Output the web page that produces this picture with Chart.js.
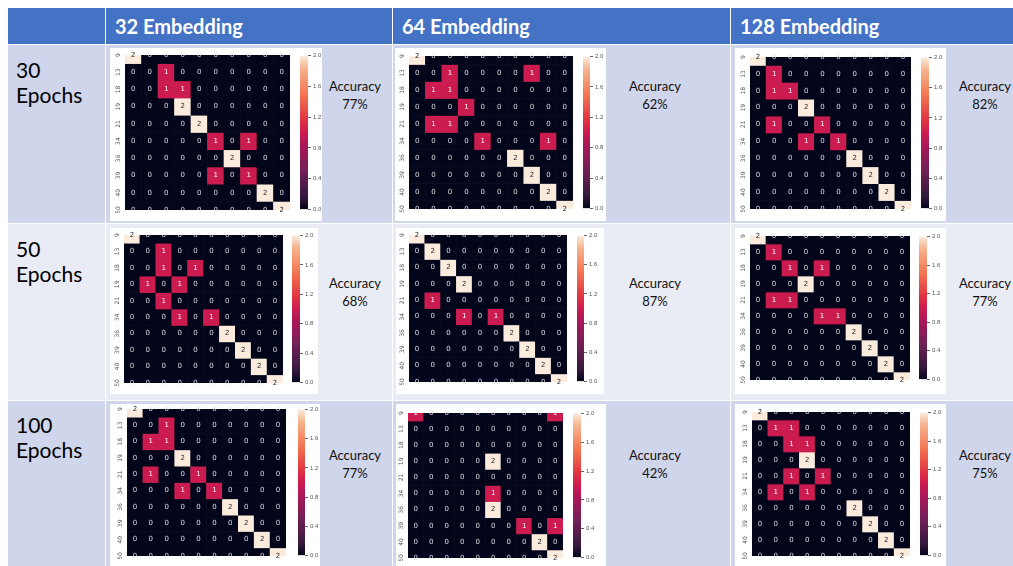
<!DOCTYPE html>
<html>
<head>
<meta charset="utf-8">
<script src="https://cdn.jsdelivr.net/npm/chart.js@4.4.1/dist/chart.umd.min.js"></script>
<style>
  html, body { margin: 0; padding: 0; }
  body { width: 1013px; height: 566px; overflow: hidden; background: #fff; position: relative;
         font-family: Lato, "Open Sans", "Liberation Sans", sans-serif; }
  .abs { position: absolute; }
  .hdr { color: #fff; font-weight: 700; font-size: 20px; line-height: 36px; padding-left: 9px; box-sizing: border-box; }
  .rowlab { font-size: 21px; line-height: 25px; color: #000; }
  .acc { font-size: 13px; line-height: 18px; color: #111; text-align: center; width: 80px; }
  .img { background: #fff; }
  canvas { position: absolute; }
</style>
</head>
<body>
<script>
// ---- data -------------------------------------------------------------
const classLabels = ['9', '13', '18', '19', '21', '34', '36', '39', '40', '50'];
const embeddingHeaders = ['32 Embedding', '64 Embedding', '128 Embedding'];
const epochLabels = ['30', '50', '100'];
// accuracy (%) per epoch row, per embedding column
const accuracy = [[77, 62, 82], [68, 87, 77], [77, 42, 75]];
const colorbarTicks = [0.0, 0.4, 0.8, 1.2, 1.6, 2.0];

const cm_e32_ep30 = [
  [2,0,0,0,0,0,0,0,0,0],
  [0,0,1,0,0,0,0,0,0,0],
  [0,0,1,1,0,0,0,0,0,0],
  [0,0,0,2,0,0,0,0,0,0],
  [0,0,0,0,2,0,0,0,0,0],
  [0,0,0,0,0,1,0,1,0,0],
  [0,0,0,0,0,0,2,0,0,0],
  [0,0,0,0,0,1,0,1,0,0],
  [0,0,0,0,0,0,0,0,2,0],
  [0,0,0,0,0,0,0,0,0,2]];
const cm_e64_ep30 = [
  [2,0,0,0,0,0,0,0,0,0],
  [0,0,1,0,0,0,0,1,0,0],
  [0,1,1,0,0,0,0,0,0,0],
  [0,0,0,1,0,0,0,0,0,0],
  [0,1,1,0,0,0,0,0,0,0],
  [0,0,0,0,1,0,0,0,1,0],
  [0,0,0,0,0,0,2,0,0,0],
  [0,0,0,0,0,0,0,2,0,0],
  [0,0,0,0,0,0,0,0,2,0],
  [0,0,0,0,0,0,0,0,0,2]];
const cm_e128_ep30 = [
  [2,0,0,0,0,0,0,0,0,0],
  [0,1,0,0,0,0,0,0,0,0],
  [0,1,1,0,0,0,0,0,0,0],
  [0,0,0,2,0,0,0,0,0,0],
  [0,1,0,0,1,0,0,0,0,0],
  [0,0,0,1,0,1,0,0,0,0],
  [0,0,0,0,0,0,2,0,0,0],
  [0,0,0,0,0,0,0,2,0,0],
  [0,0,0,0,0,0,0,0,2,0],
  [0,0,0,0,0,0,0,0,0,2]];
const cm_e32_ep50 = [
  [2,0,0,0,0,0,0,0,0,0],
  [0,0,1,0,0,0,0,0,0,0],
  [0,0,1,0,1,0,0,0,0,0],
  [0,1,0,1,0,0,0,0,0,0],
  [0,0,1,0,0,0,0,0,0,0],
  [0,0,0,1,0,1,0,0,0,0],
  [0,0,0,0,0,0,2,0,0,0],
  [0,0,0,0,0,0,0,2,0,0],
  [0,0,0,0,0,0,0,0,2,0],
  [0,0,0,0,0,0,0,0,0,2]];
const cm_e64_ep50 = [
  [2,0,0,0,0,0,0,0,0,0],
  [0,2,0,0,0,0,0,0,0,0],
  [0,0,2,0,0,0,0,0,0,0],
  [0,0,0,2,0,0,0,0,0,0],
  [0,1,0,0,0,0,0,0,0,0],
  [0,0,0,1,0,1,0,0,0,0],
  [0,0,0,0,0,0,2,0,0,0],
  [0,0,0,0,0,0,0,2,0,0],
  [0,0,0,0,0,0,0,0,2,0],
  [0,0,0,0,0,0,0,0,0,2]];
const cm_e128_ep50 = [
  [2,0,0,0,0,0,0,0,0,0],
  [0,1,0,0,0,0,0,0,0,0],
  [0,0,1,0,1,0,0,0,0,0],
  [0,0,0,2,0,0,0,0,0,0],
  [0,1,1,0,0,0,0,0,0,0],
  [0,0,0,0,1,1,0,0,0,0],
  [0,0,0,0,0,0,2,0,0,0],
  [0,0,0,0,0,0,0,2,0,0],
  [0,0,0,0,0,0,0,0,2,0],
  [0,0,0,0,0,0,0,0,0,2]];
const cm_e32_ep100 = [
  [2,0,0,0,0,0,0,0,0,0],
  [0,0,1,0,0,0,0,0,0,0],
  [0,1,1,0,0,0,0,0,0,0],
  [0,0,0,2,0,0,0,0,0,0],
  [0,1,0,0,1,0,0,0,0,0],
  [0,0,0,1,0,1,0,0,0,0],
  [0,0,0,0,0,0,2,0,0,0],
  [0,0,0,0,0,0,0,2,0,0],
  [0,0,0,0,0,0,0,0,2,0],
  [0,0,0,0,0,0,0,0,0,2]];
const cm_e64_ep100 = [
  [1,0,0,0,0,0,0,0,0,1],
  [0,0,0,0,0,0,0,0,0,0],
  [0,0,0,0,0,0,0,0,0,0],
  [0,0,0,0,0,2,0,0,0,0],
  [0,0,0,0,0,0,0,0,0,0],
  [0,0,0,0,0,1,0,0,0,0],
  [0,0,0,0,0,2,0,0,0,0],
  [0,0,0,0,0,0,0,1,0,1],
  [0,0,0,0,0,0,0,0,2,0],
  [0,0,0,0,0,0,0,0,0,2]];
const cm_e128_ep100 = [
  [2,0,0,0,0,0,0,0,0,0],
  [0,1,1,0,0,0,0,0,0,0],
  [0,0,1,1,0,0,0,0,0,0],
  [0,0,0,2,0,0,0,0,0,0],
  [0,0,1,0,1,0,0,0,0,0],
  [0,1,0,1,0,0,0,0,0,0],
  [0,0,0,0,0,0,2,0,0,0],
  [0,0,0,0,0,0,0,2,0,0],
  [0,0,0,0,0,0,0,0,2,0],
  [0,0,0,0,0,0,0,0,0,2]];

// reading order: epoch rows, embedding columns
const matrices = [
  cm_e32_ep30, cm_e64_ep30, cm_e128_ep30,
  cm_e32_ep50, cm_e64_ep50, cm_e128_ep50,
  cm_e32_ep100, cm_e64_ep100, cm_e128_ep100];

// ---- page layout (pixels) ----------------------------------------------
const colX = [8, 106, 393, 731, 1014];
const rowY = [8, 45, 224, 401, 570];
const rowBg = ['#cfd5ea', '#e9ebf5', '#cfd5ea'];
const rowLabelTop = [57, 236, 412];
const accCenterX = [355, 655, 985];
const accTop = [77, 274, 446];
// matrix area [x0, y0, x1, y1], colorbar [x0, x1], white image frame [x0, y0, x1, y1]
const panels = [
  { m: [125, 55, 290, 210], cb: [300, 308], f: [110, 48, 322, 221] },
  { m: [409, 56, 573, 209], cb: [583, 590], f: [395, 48, 606, 221] },
  { m: [750, 57, 911, 209], cb: [921, 929], f: [735, 48, 946, 221] },
  { m: [124, 235, 283, 383], cb: [292, 300], f: [110, 228, 318, 394] },
  { m: [409, 235, 567, 382], cb: [577, 584], f: [396, 228, 604, 394] },
  { m: [750, 236, 910, 380], cb: [919, 927], f: [735, 228, 946, 394] },
  { m: [127, 409, 286, 556], cb: [298, 305], f: [110, 404, 320, 570] },
  { m: [408, 413, 563, 558], cb: [573, 581], f: [396, 404, 606, 570] },
  { m: [752, 412, 910, 556], cb: [920, 928], f: [735, 404, 946, 570] }
];

// ---- colormap (seaborn "rocket") --------------------------------------
const rocketStops = [
  [0.000, [3, 5, 26]], [0.083, [53, 25, 62]], [0.250, [112, 31, 87]],
  [0.417, [173, 23, 89]], [0.500, [203, 27, 79]], [0.583, [225, 51, 66]],
  [0.750, [243, 118, 81]], [0.917, [246, 180, 143]], [1.000, [250, 235, 221]]];
function rocket(t) {
  t = Math.max(0, Math.min(1, t));
  for (let i = 1; i < rocketStops.length; i++) {
    const [t1, c1] = rocketStops[i], [t0, c0] = rocketStops[i - 1];
    if (t <= t1) {
      const u = (t - t0) / (t1 - t0);
      const c = c0.map((v, k) => Math.round(v + (c1[k] - v) * u));
      return `rgb(${c[0]},${c[1]},${c[2]})`;
    }
  }
  return 'rgb(250,235,221)';
}
const vmax = colorbarTicks[colorbarTicks.length - 1];

// ---- helpers -----------------------------------------------------------
function addDiv(cls, x, y, w, h, style, html) {
  const d = document.createElement('div');
  d.className = 'abs ' + cls;
  Object.assign(d.style, { left: x + 'px', top: y + 'px' }, w != null ? { width: w + 'px' } : {},
    h != null ? { height: h + 'px' } : {}, style || {});
  if (html) d.innerHTML = html;
  document.body.appendChild(d);
  return d;
}
function addCanvas(x, y, w, h) {
  const c = document.createElement('canvas');
  c.width = w; c.height = h;
  Object.assign(c.style, { left: x + 'px', top: y + 'px', width: w + 'px', height: h + 'px' });
  document.body.appendChild(c);
  return c;
}

// ---- table ---------------------------------------------------------------
for (let c = 0; c < 4; c++) {
  addDiv('hdr', colX[c], rowY[0], colX[c + 1] - colX[c] - 1, rowY[1] - rowY[0] - 1,
    { background: '#4472c4' }, c > 0 ? embeddingHeaders[c - 1] : '');
}
for (let r = 0; r < 3; r++) {
  for (let c = 0; c < 4; c++) {
    addDiv('', colX[c], rowY[r + 1], colX[c + 1] - colX[c] - 1, rowY[r + 2] - rowY[r + 1] - 1,
      { background: rowBg[r] });
  }
  addDiv('rowlab', 16, rowLabelTop[r], 90, null, null, epochLabels[r] + '<br>Epochs');
  for (let c = 0; c < 3; c++) {
    addDiv('acc', accCenterX[c] - 40, accTop[r], null, null, null,
      'Accuracy<br>' + accuracy[r][c] + '%');
  }
}

// ---- heatmaps ------------------------------------------------------------
const YW = 13, XH = 12, PT = 8, PR = 4;

const cellText = {
  id: 'cellText',
  afterDatasetsDraw(chart, args, opts) {
    const { ctx, scales: { x, y } } = chart;
    const m = opts.matrix;
    ctx.save();
    ctx.font = '7px "DejaVu Sans", sans-serif';
    ctx.textAlign = 'center';
    ctx.textBaseline = 'middle';
    m.forEach((row, r) => row.forEach((v, c) => {
      ctx.fillStyle = v / vmax > 0.6 ? '#262626' : (v > 0 ? '#ffffff' : 'rgba(235,235,240,0.9)');
      ctx.fillText(String(v), x.getPixelForValue(c), y.getPixelForValue(r + 0.5));
    }));
    // rotated class labels along the left axis
    ctx.fillStyle = '#555';
    ctx.font = '6px "DejaVu Sans", sans-serif';
    classLabels.forEach((lab, r) => {
      ctx.save();
      ctx.translate(chart.chartArea.left - 7, y.getPixelForValue(r + 0.5));
      ctx.rotate(-Math.PI / 2);
      ctx.fillText(lab, 0, 0);
      ctx.restore();
    });
    ctx.restore();
  }
};

function heatmap(panel, matrix) {
  const [x0, y0, x1, y1] = panel.m;
  const cv = addCanvas(x0 - YW, y0 - PT, YW + (x1 - x0) + PR, PT + (y1 - y0) + XH);
  const datasets = matrix.map((row, r) => ({
    data: row.map(() => [r, r + 1]),
    backgroundColor: row.map(v => rocket(v / vmax)),
    borderWidth: 0,
    grouped: false,
    barPercentage: 1,
    categoryPercentage: 1
  }));
  new Chart(cv, {
    type: 'bar',
    data: { labels: classLabels, datasets },
    options: {
      responsive: false, animation: false, events: [],
      layout: { padding: { top: PT, right: PR, left: 0, bottom: 0 }, autoPadding: false },
      plugins: { legend: { display: false }, tooltip: { enabled: false }, cellText: { matrix } },
      scales: {
        x: {
          grid: { display: false }, border: { display: false },
          ticks: { font: { size: 6 }, color: '#555', padding: 3, maxRotation: 0, minRotation: 0, autoSkip: false },
          afterFit(s) { s.height = XH; }
        },
        y: {
          type: 'linear', reverse: true, min: 0.5, max: 9.5,
          grid: { display: false }, border: { display: false },
          ticks: { display: false },
          afterFit(s) { s.width = YW; }
        }
      }
    },
    plugins: [cellText]
  });
}

function colorbar(panel) {
  const [, y0, , y1] = panel.m;
  const [c0, c1] = panel.cb;
  const AW = 20, P = 5;
  const cv = addCanvas(c0, y0 - P, (c1 - c0) + AW, (y1 - y0) + 2 * P);
  new Chart(cv, {
    type: 'bar',
    data: {
      labels: [''],
      datasets: [{
        data: [[0, vmax]],
        borderWidth: 0, barPercentage: 1, categoryPercentage: 1,
        backgroundColor(ctx) {
          const a = ctx.chart.chartArea;
          if (!a) return '#000';
          const g = ctx.chart.ctx.createLinearGradient(0, a.bottom, 0, a.top);
          rocketStops.forEach(([t]) => g.addColorStop(t, rocket(t)));
          return g;
        }
      }]
    },
    options: {
      responsive: false, animation: false, events: [],
      layout: { padding: { top: P, bottom: P, left: 0, right: 0 }, autoPadding: false },
      plugins: { legend: { display: false }, tooltip: { enabled: false } },
      scales: {
        x: { display: false },
        y: {
          position: 'right', min: 0, max: vmax,
          afterBuildTicks(s) { s.ticks = colorbarTicks.map(v => ({ value: v })); },
          ticks: { callback: v => Number(v).toFixed(1), font: { size: 6 }, color: '#555', padding: 2 },
          grid: { drawOnChartArea: false, drawTicks: true, tickLength: 3, color: '#666' },
          border: { display: false },
          afterFit(s) { s.width = AW; }
        }
      }
    }
  });
}

panels.forEach((p, i) => {
  const [fx0, fy0, fx1, fy1] = p.f;
  addDiv('img', fx0, fy0, fx1 - fx0, fy1 - fy0);
});
panels.forEach((p, i) => {
  heatmap(p, matrices[i]);
  colorbar(p);
});
</script>
</body>
</html>
